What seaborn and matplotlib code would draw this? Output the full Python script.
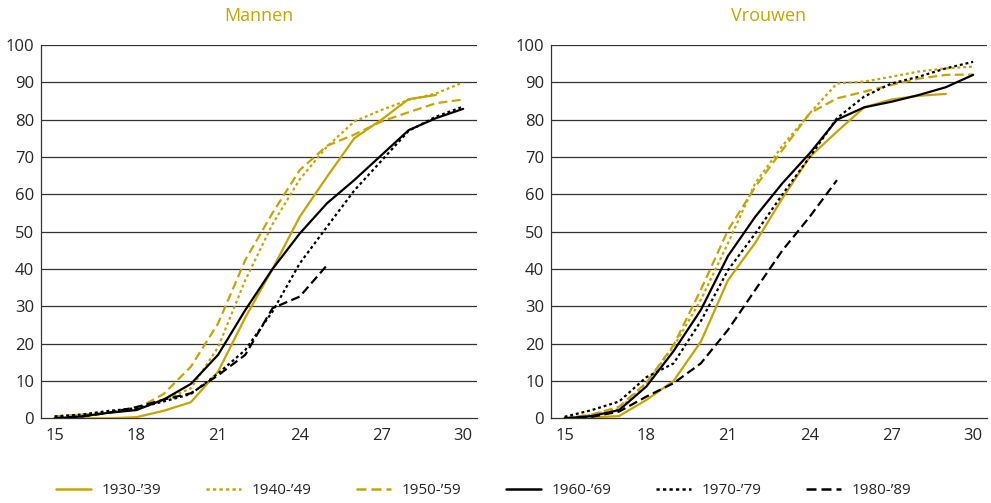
import numpy as np
import pandas as pd
import matplotlib
matplotlib.use("Agg")
import matplotlib.pyplot as plt
import seaborn as sns
from matplotlib.lines import Line2D

ages = list(range(15, 31))
cohorts = ["1930-’39", "1940-’49", "1950-’59", "1960-’69", "1970-’79", "1980-’89"]

# Mannen
m_1930 = [0, 0, 0, 0.3, 2, 4.3, 12.5, 27, 40, 54, 64.7, 75, 80, 85.5, 86.6, None]
m_1940 = [0.5, 1, 1.5, 2.5, 5, 8, 19, 37, 52, 64, 72.8, 79.5, 82.6, 85.3, 87, 90]
m_1950 = [0.5, 1, 1.5, 2.5, 6.5, 13.8, 25.4, 42.4, 55, 66.5, 73, 76, 79.5, 82, 84.4, 85.4]
m_1960 = [0, 0.5, 1.5, 2.2, 5, 9.2, 17, 29, 40, 49.5, 57.6, 63.8, 70.5, 77.2, 80.4, 82.9]
m_1970 = [0.5, 1, 2, 2.7, 4.5, 6.5, 12, 18.3, 28.6, 41.5, 51.3, 61, 69, 77, 80.8, 83.5]
m_1980 = [0, 0.5, 1.5, 3, 5, 6.7, 11.5, 17, 29.5, 32.6, 41, None, None, None, None, None]

# Vrouwen
v_1930 = [0, 0.2, 0.6, 4.9, 10, 20.5, 37, 47, 59, 70, 76.8, 83.3, 85.4, 86.4, 86.9, None]
v_1940 = [0, 1, 2.5, 9.4, 19.2, 31.7, 46.9, 63, 73, 81.7, 89.7, 90.2, 91.5, 92.9, 93.75, 94.2]
v_1950 = [0, 1, 3.1, 9.5, 19.6, 34.4, 50.4, 62, 71.9, 81.7, 85.7, 87.5, 89.3, 91, 92, 92.1]
v_1960 = [0, 0.6, 2.2, 8.5, 18, 29, 43.5, 54, 63, 71, 80, 83.3, 84.8, 86.6, 88.7, 92]
v_1970 = [0.4, 2.2, 4.5, 11, 14.7, 26, 39.7, 49.5, 60, 70, 80.4, 86.2, 89.7, 91.5, 93.75, 95.5]
v_1980 = [0, 0.4, 1.8, 5.8, 9.4, 14.7, 23.7, 34.4, 45, 54, 63.8, None, None, None, None, None]

x_ticks = [15, 18, 21, 24, 27, 30]
y_ticks = list(range(0, 101, 10))

GOLD = "#C8A400"
styles = {
    "1930-’39": dict(color=GOLD, dashes=()),
    "1940-’49": dict(color=GOLD, dashes=(1.3, 1.3)),
    "1950-’59": dict(color=GOLD, dashes=(4, 2)),
    "1960-’69": dict(color="black", dashes=()),
    "1970-’79": dict(color="black", dashes=(1.3, 1.3)),
    "1980-’89": dict(color="black", dashes=(4, 2)),
}


def make_df(series):
    rows = []
    for c, vals in zip(cohorts, series):
        for a, v in zip(ages, vals):
            if v is not None:
                rows.append({"age": a, "value": v, "cohort": c})
    return pd.DataFrame(rows)


df_m = make_df([m_1930, m_1940, m_1950, m_1960, m_1970, m_1980])
df_v = make_df([v_1930, v_1940, v_1950, v_1960, v_1970, v_1980])

sns.set_style("white")
plt.rcParams["font.family"] = ["Open Sans", "DejaVu Sans"]

fig = plt.figure(figsize=(9.91, 5.03), dpi=100)
ax1 = fig.add_axes([0.0414, 0.1684, 0.4397, 0.7421])
ax2 = fig.add_axes([0.556, 0.1684, 0.4397, 0.7421])

for ax, df, title in [(ax1, df_m, "Mannen"), (ax2, df_v, "Vrouwen")]:
    for y in y_ticks[1:]:
        ax.axhline(y, color="#333333", lw=0.9, zorder=0)
    for c in cohorts:
        sub = df[df["cohort"] == c]
        st = styles[c]
        sns.lineplot(data=sub, x="age", y="value", ax=ax, color=st["color"],
                     lw=1.6, legend=False, zorder=3)
        ln = ax.get_lines()[-1]
        if st["dashes"]:
            ln.set_dashes(st["dashes"])
    ax.set_xlim(14.5, 30.5)
    ax.set_ylim(0, 100)
    ax.set_xticks(x_ticks)
    ax.set_xticks(np.arange(15.5, 30.6, 1), minor=True)
    ax.set_yticks(y_ticks)
    ax.tick_params(axis="x", which="major", length=0, labelsize=12, pad=7)
    ax.tick_params(axis="x", which="minor", direction="in", length=6, width=0.9, color="#333333")
    ax.tick_params(axis="y", length=0, labelsize=12, pad=5)
    ax.set_xlabel("")
    ax.set_ylabel("")
    for s in ["top", "right"]:
        ax.spines[s].set_visible(False)
    for s in ["left", "bottom"]:
        ax.spines[s].set_color("#333333")
        ax.spines[s].set_linewidth(0.9)
    ax.set_title(title, color=GOLD, fontsize=13, pad=17)

handles = []
for c in cohorts:
    st = styles[c]
    h = Line2D([0], [0], color=st["color"], lw=1.8)
    if st["dashes"]:
        h.set_dashes(st["dashes"])
    handles.append(h)

fig.legend(handles, cohorts, loc="center", bbox_to_anchor=(0.488, 0.024), ncol=6,
           frameon=False, fontsize=11, handlelength=2.3, columnspacing=2.9,
           handletextpad=0.7)

fig.savefig("out.png", dpi=100)
